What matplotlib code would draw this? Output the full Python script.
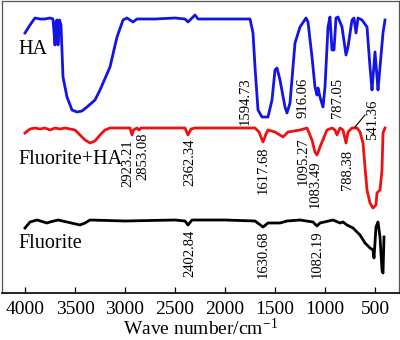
import matplotlib
matplotlib.use("Agg")
import matplotlib.pyplot as plt

plt.rcParams['font.family'] = ['Liberation Serif', 'DejaVu Serif']
plt.rcParams['mathtext.fontset'] = 'custom'
plt.rcParams['mathtext.rm'] = 'Liberation Serif'
plt.rcParams['mathtext.it'] = 'Liberation Serif:italic'

# ---- data (wavenumber cm^-1, relative transmittance) ----
ha_w = [4000, 3950, 3900, 3850, 3800, 3750, 3720, 3700, 3690, 3680, 3670, 3655, 3640, 3620,
        3580, 3530, 3480, 3430, 3380, 3300, 3250, 3150, 3080, 3020, 2980, 2920, 2880, 2700,
        2500, 2400, 2370, 2330, 2300, 2270, 2000, 1800, 1750, 1720, 1700, 1670, 1630, 1570,
        1530, 1500, 1480, 1450, 1400, 1380, 1350, 1300, 1250, 1190, 1170, 1130, 1100, 1080,
        1070, 1050, 1020, 1000, 970, 950, 930, 910, 890, 870, 830, 790, 770, 730, 710, 690,
        670, 630, 580, 550, 530, 520, 500, 480, 470, 450, 420, 400]
ha_t = [260, 268, 275, 274, 274, 275, 274, 248, 271, 273, 248, 273, 268, 216,
        196, 183, 181, 182, 186, 193, 203, 226, 256, 273, 275, 271, 274, 274,
        275, 274, 271, 275, 278, 274, 274, 274, 274, 260, 226, 183, 176, 176,
        193, 223, 225, 213, 186, 180, 190, 250, 266, 275, 271, 236, 206, 198,
        205, 196, 186, 206, 266, 276, 243, 243, 275, 276, 266, 238, 246, 273, 275, 260,
        275, 273, 266, 226, 203, 216, 241, 216, 203, 226, 260, 273]

mix_w = [4000, 3950, 3900, 3850, 3800, 3750, 3700, 3650, 3600, 3550, 3500, 3450, 3400, 3350,
         3300, 3250, 3200, 3150, 3000, 2950, 2930, 2915, 2880, 2860, 2840, 2500, 2400, 2370,
         2340, 2300, 1800, 1700, 1660, 1620, 1590, 1570, 1500, 1420, 1370, 1250, 1180, 1130,
         1100, 1080, 1050, 980, 930, 900, 880, 850, 820, 790, 770, 730, 680, 650, 620, 600,
         580, 550, 520, 490, 480, 450, 430, 420, 400]
mix_t = [160, 164, 165, 164, 165, 163, 165, 164, 165, 164, 163, 158, 153, 150,
         152, 158, 163, 165, 165, 165, 158, 163, 165, 163, 165, 165, 165, 158,
         164, 165, 165, 165, 161, 151, 159, 163, 161, 156, 161, 163, 165, 153,
         141, 138, 146, 163, 165, 163, 158, 165, 163, 150, 161, 165, 165, 161, 150, 126,
         103, 90, 85, 88, 100, 103, 123, 160, 165]

fl_w = [4000, 3950, 3880, 3780, 3750, 3670, 3580, 3450, 3400, 3350, 3000, 2500, 2400, 2370,
        2330, 2000, 1700, 1620, 1570, 1450, 1380, 1250, 1120, 1080, 1050, 920, 850, 820,
        780, 720, 650, 600, 550, 520, 510, 490, 470, 450, 430, 420, 410]
fl_t = [65, 71, 73, 70, 71, 73, 71, 68, 70, 73, 72, 73, 72, 68,
        73, 73, 72, 66, 70, 70, 72, 73, 71, 67, 70, 73, 70, 71,
        68, 65, 58, 50, 45, 43, 35, 66, 71, 56, 23, 20, 56]

ha_peaks = ['1594.73', '916.06', '787.05', '541.36']
mix_peaks = ['2923.21', '2853.08', '2362.34', '1617.68', '1095.27', '1083.49', '788.38']
fl_peaks = ['2402.84', '1630.68', '1082.19']

series_names = ['HA', 'Fluorite+HA', 'Fluorite']
xticks = [4000, 3500, 3000, 2500, 2000, 1500, 1000, 500]

# ---- layout ----
fig = plt.figure(figsize=(4.0, 3.4), dpi=100)
ax = fig.add_axes([2/400, (340-293)/340, 397/400, 292/340])

ax.plot(ha_w, ha_t, color='#1414e6', lw=2.0, solid_joinstyle='round')
ax.plot(mix_w, mix_t, color='#ee1111', lw=2.0, solid_joinstyle='round')
ax.plot(fl_w, fl_t, color='black', lw=2.0, solid_joinstyle='round')

ax.set_xlim(4230, 260)
ax.set_ylim(0, 292)
ax.set_yticks([])
ax.set_xticks(xticks)
ax.set_xticklabels([str(t) for t in xticks])
ax.tick_params(axis='x', direction='in', length=4.5, width=0.9, pad=6,
               labelsize=14, colors='black')

for s in ['left', 'top', 'right']:
    ax.spines[s].set_color('#555555')
    ax.spines[s].set_linewidth(0.9)
ax.spines['bottom'].set_color('black')
ax.spines['bottom'].set_linewidth(1.2)

ax.set_xlabel('Wave number/cm$^{-1}$', fontsize=14, labelpad=0)

# series names
name_y = [243, 133, 50]
for name, y in zip(series_names, name_y):
    ax.text(4070, y, name, fontsize=14.5, ha='left', va='center')

# peak labels (x position in cm^-1, top position)
ha_lx = [1800, 1220, 880, 520]
ha_ly = [216, 215, 215, 193]
mix_lx = [2970, 2820, 2350, 1620, 1220, 1100, 780]
mix_ly = [154, 160, 154, 146, 156, 133, 143]
fl_lx = [2350, 1620, 1080]
fl_ly = [63, 63, 63]

for labels, xs, ys in [(ha_peaks, ha_lx, ha_ly), (mix_peaks, mix_lx, mix_ly),
                       (fl_peaks, fl_lx, fl_ly)]:
    for lab, x, y in zip(labels, xs, ys):
        ax.text(x, y, lab, rotation=90, fontsize=10.5, ha='center', va='top')

# leader line for 541.36
ax.plot([600, 700], [178, 166], color='black', lw=0.8)

fig.savefig('out.png', dpi=100)
